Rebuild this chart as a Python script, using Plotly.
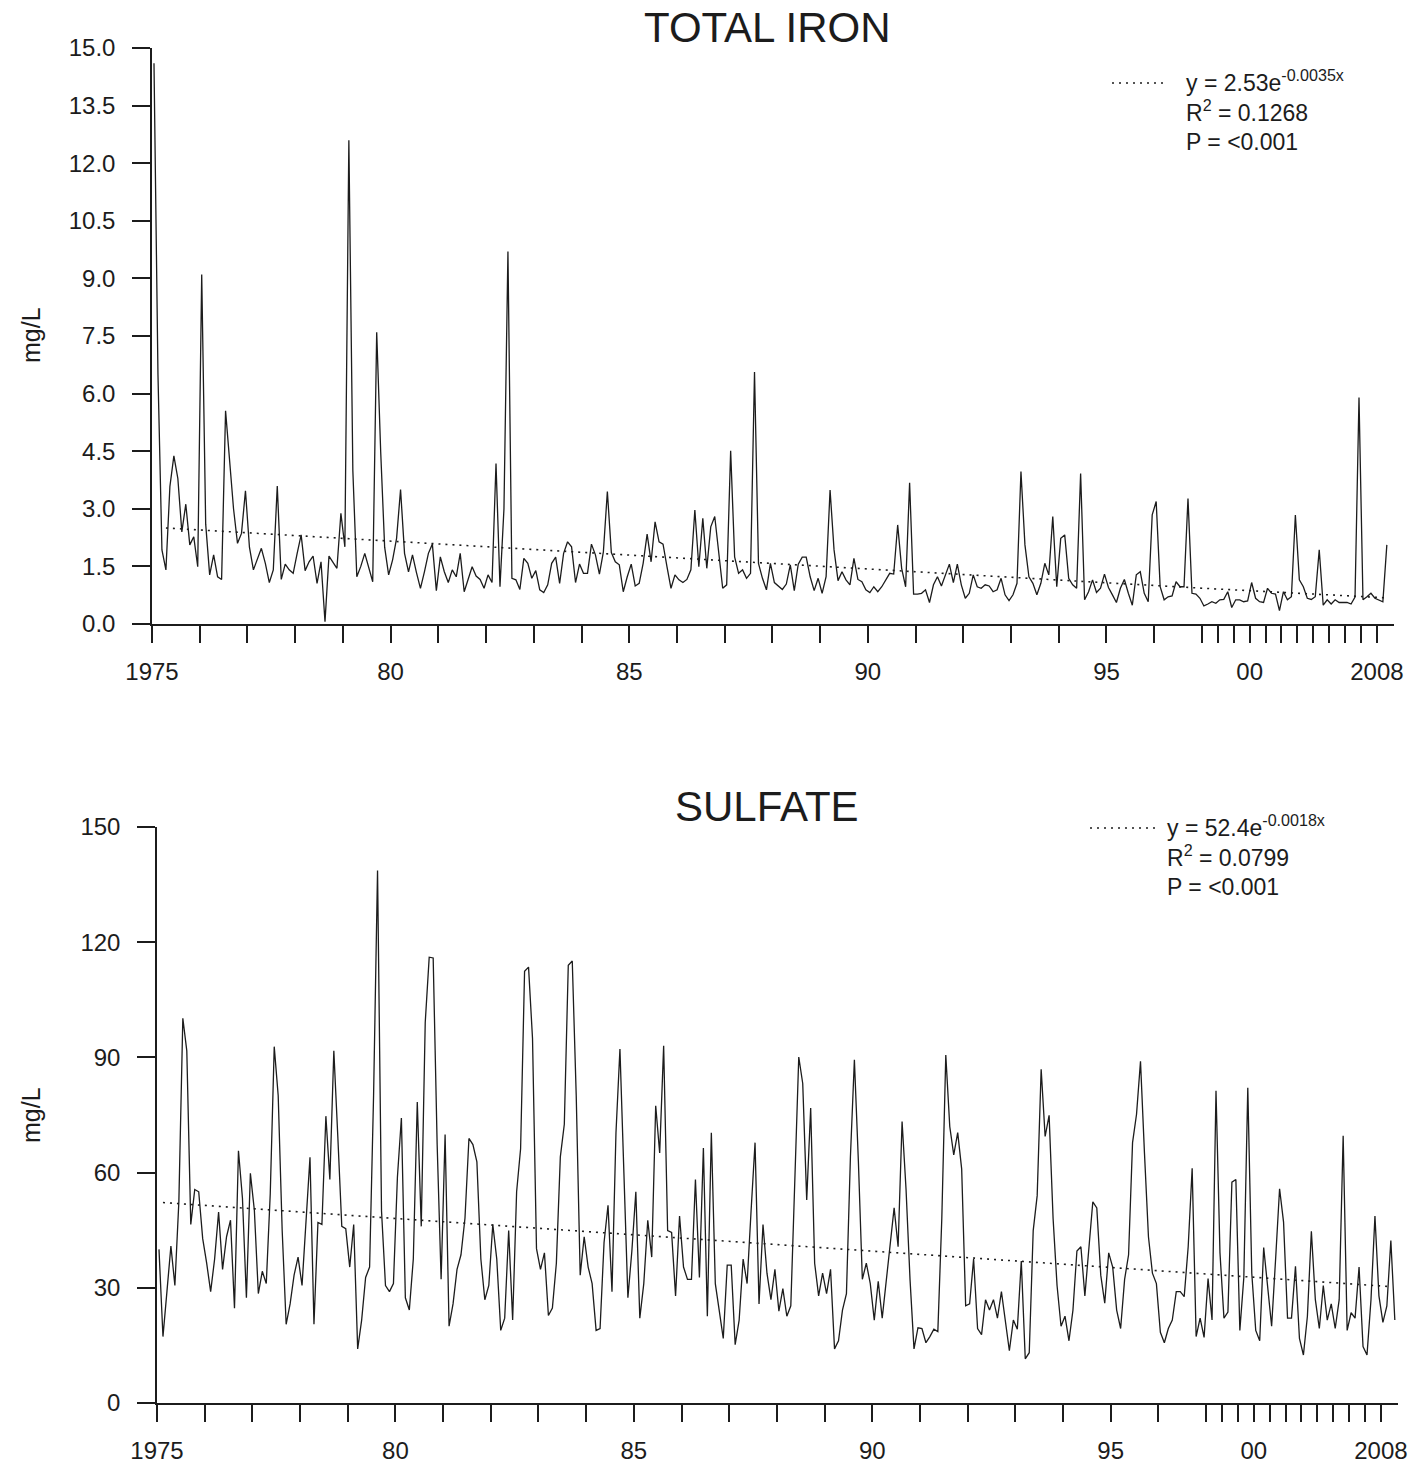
import plotly.graph_objects as go

# ---------------- data ----------------
# Samples are plotted in sequence: monthly 1975-1996, quarterly 1997-2008
years = list(range(1975, 2009))
year_labels = {1975: "1975", 1980: "80", 1985: "85", 1990: "90",
               1995: "95", 2000: "00", 2008: "2008"}
first_quarterly_year = 1997

iron = [
    14.6, 6.5, 1.93, 1.41, 3.58, 4.38, 3.79, 2.4, 3.12, 2.06, 2.27, 1.49,      # 1975
    9.1, 2.6, 1.28, 1.8, 1.23, 1.16, 5.55, 4.3, 3.0, 2.1, 2.36, 3.47,          # 1976
    2.0, 1.41, 1.67, 1.97, 1.58, 1.08, 1.41, 3.59, 1.16, 1.56, 1.41, 1.32,     # 1977
    1.84, 2.32, 1.39, 1.62, 1.77, 1.06, 1.62, 0.06, 1.77, 1.62, 1.45, 2.88,    # 1978
    2.01, 12.6, 4.0, 1.23, 1.5, 1.84, 1.45, 1.1, 7.6, 4.5, 2.0, 1.28,          # 1979
    1.67, 2.23, 3.5, 1.84, 1.36, 1.8, 1.34, 0.93, 1.36, 1.84, 2.08, 0.87,      # 1980
    1.75, 1.36, 1.08, 1.41, 1.23, 1.84, 0.84, 1.15, 1.49, 1.25, 1.16, 0.93,    # 1981
    1.28, 1.08, 4.18, 0.97, 3.0, 9.7, 1.19, 1.15, 0.9, 1.71, 1.58, 1.19,       # 1982
    1.39, 0.89, 0.82, 1.02, 1.58, 1.74, 1.06, 1.84, 2.14, 2.01, 1.08, 1.56,    # 1983
    1.32, 1.32, 2.08, 1.8, 1.3, 1.88, 3.45, 1.86, 1.62, 1.54, 0.84, 1.23,      # 1984
    1.56, 0.99, 1.06, 1.58, 2.34, 1.62, 2.66, 2.14, 2.08, 1.49, 0.93, 1.28,    # 1985
    1.15, 1.08, 1.16, 1.41, 2.97, 1.49, 2.75, 1.45, 2.53, 2.8, 1.84, 0.93,     # 1986
    1.02, 4.51, 1.75, 1.32, 1.41, 1.19, 1.32, 6.56, 1.58, 1.19, 0.89, 1.58,    # 1987
    1.08, 0.99, 0.9, 1.04, 1.54, 0.87, 1.56, 1.74, 1.74, 1.23, 0.87, 1.19,     # 1988
    0.8, 1.23, 3.49, 1.93, 1.13, 1.36, 1.15, 1.02, 1.71, 1.16, 1.1, 0.89,      # 1989
    0.82, 0.97, 0.84, 0.97, 1.15, 1.32, 1.3, 2.58, 1.45, 0.97, 3.68, 0.78,     # 1990
    0.78, 0.8, 0.89, 0.56, 1.02, 1.23, 0.99, 1.3, 1.56, 1.08, 1.56, 1.02,      # 1991
    0.67, 0.8, 1.28, 0.97, 0.93, 1.02, 0.99, 0.84, 0.89, 1.19, 0.76, 0.61,     # 1992
    0.76, 1.06, 3.97, 2.06, 1.23, 1.06, 0.76, 1.06, 1.58, 1.28, 2.8, 0.97,     # 1993
    2.23, 2.32, 1.19, 1.02, 0.93, 3.92, 0.63, 0.84, 1.15, 0.82, 0.93, 1.3,     # 1994
    0.95, 0.76, 0.56, 0.93, 1.16, 0.8, 0.49, 1.28, 1.36, 0.8, 0.58, 2.84,      # 1995
    3.19, 0.97, 0.63, 0.71, 0.73, 1.1, 0.97, 0.97, 3.27, 0.8, 0.78, 0.67,      # 1996
    0.47, 0.52, 0.58, 0.54,      # 1997
    0.63, 0.64, 0.84, 0.43,      # 1998
    0.63, 0.63, 0.58, 0.6,       # 1999
    1.08, 0.67, 0.58, 0.56,      # 2000
    0.93, 0.8, 0.78, 0.35,       # 2001
    0.84, 0.63, 0.71, 2.84,      # 2002
    1.15, 0.97, 0.67, 0.64,      # 2003
    0.71, 1.93, 0.49, 0.63,      # 2004
    0.52, 0.63, 0.56, 0.56,      # 2005
    0.56, 0.52, 0.7, 5.9,        # 2006
    0.63, 0.71, 0.8, 0.67,       # 2007
    0.63, 0.58, 2.06,            # 2008
]

sulfate = [
    40, 17.3, 29, 40.9, 30.6, 52.4, 100.2, 91.7, 46.5, 55.6, 55, 42.8,         # 1975
    36.4, 29, 37.5, 49.7, 34.8, 43.3, 47.6, 24.7, 65.7, 53.4, 27.4, 59.8,      # 1976
    50.2, 28.5, 34.3, 31.1, 54.5, 92.8, 80, 45, 20.5, 25.8, 33.3, 38,          # 1977
    30.6, 48.1, 64, 20.5, 47, 46.5, 74.7, 58.2, 91.7, 69.4, 46, 45.4,          # 1978
    35.4, 46.5, 14.1, 21.6, 32.7, 35.4, 80, 138.7, 50, 30.6, 29, 31.1,         # 1979
    58.8, 74.2, 27.4, 24.2, 37.5, 78.4, 46, 99.1, 116.1, 115.9, 67.3, 32.2,    # 1980
    69.9, 20, 25.8, 34.8, 38.6, 48.1, 68.9, 67.3, 62.8, 37.5, 26.9, 30.6,      # 1981
    46.5, 37.5, 18.9, 22.1, 44.9, 21.6, 55, 66.2, 112.4, 113.5, 94.9, 40.2,    # 1982
    34.8, 39.1, 22.8, 24.7, 36.4, 64.1, 72.6, 114, 115.1, 80, 33.3, 43.3,      # 1983
    35.4, 31.1, 18.9, 19.4, 41.8, 51.5, 29, 70.4, 92.2, 59.8, 27.4, 39.6,      # 1984
    55, 22.1, 31.1, 47.6, 38, 77.4, 65.1, 93, 44.9, 44.4, 27.9, 48.7,          # 1985
    35.4, 32.2, 32.2, 58.2, 32.7, 66.4, 22.6, 70.4, 31.1, 24, 16.8, 35.9,      # 1986
    35.9, 15.2, 21.6, 37.5, 31.1, 50, 67.8, 25.8, 46.5, 33.8, 26.9, 34.8,      # 1987
    23.9, 29.8, 22.6, 25.3, 55, 90.1, 83.2, 52.9, 76.8, 36.4, 27.9, 33.8,      # 1988
    28.5, 34.8, 14.1, 16.2, 24.2, 28.5, 64.1, 89.4, 63, 32.2, 36.4, 31.1,      # 1989
    21.6, 31.7, 22.1, 31.1, 40.2, 50.8, 40.7, 73.3, 55.6, 32.2, 14.1, 19.6,    # 1990
    19.4, 15.7, 17.3, 19.2, 18.6, 48.1, 90.6, 72, 64.6, 70.4, 60.9, 25.3,      # 1991
    25.8, 37.5, 19.4, 17.8, 26.9, 24.2, 26.9, 22.1, 29, 21.6, 13.6, 21.6,      # 1992
    19.2, 37, 11.5, 13.1, 44.9, 54, 86.9, 69.4, 74.9, 48.1, 30.6, 20,          # 1993
    22.6, 16.2, 24.2, 39.6, 40.7, 27.9, 39.6, 52.4, 50.8, 33.3, 26, 39.1,      # 1994
    35.4, 24.2, 19.4, 32.2, 38.6, 67.8, 75.2, 89, 65, 43.3, 33.8, 31.1,        # 1995
    18.4, 15.7, 19.4, 21.6, 29, 29, 27.7, 40.7, 61.1, 17.3, 22.1, 17.1,        # 1996
    32.4, 21.6, 81.3, 39.1,      # 1997
    22.1, 23.7, 57.5, 58.2,      # 1998
    18.9, 32.7, 82.1, 33.8,      # 1999
    18.9, 16.2, 40.5, 31.1,      # 2000
    20, 37.5, 55.8, 47.1,        # 2001
    22.1, 22.1, 35.6, 16.8,      # 2002
    12.5, 22.6, 44.7, 26.9,      # 2003
    19.4, 30.6, 21.6, 25.8,      # 2004
    19.4, 26.9, 69.6, 18.9,      # 2005
    23.5, 22.1, 35.4, 14.7,      # 2006
    12.5, 26.9, 48.7, 27.9,      # 2007
    21, 25.3, 42.3, 21.6,        # 2008
]

# exponential trend lines at a few sample positions
iron_trend_at = [3, 77, 155, 235, 264, 310]
iron_trend = [2.50, 2.06, 1.58, 1.10, 0.93, 0.68]
sulfate_trend_at = [1, 99, 153, 210, 257, 310]
sulfate_trend = [52.2, 45.3, 41.4, 37.5, 34.1, 30.3]

iron_fit_text = "y = 2.53e<sup>-0.0035x</sup><br>R<sup>2</sup> = 0.1268<br>P = <0.001"
sulfate_fit_text = "y = 52.4e<sup>-0.0018x</sup><br>R<sup>2</sup> = 0.0799<br>P = <0.001"

# ---------------- figure ----------------
W, H = 1427, 1466
FONT = "Liberation Sans, Arial, sans-serif"
INK = "#1c1c1c"


def px(x):
    return x / W


def py(y):
    return 1 - y / H


def sample_pos(year):
    if year <= first_quarterly_year:
        return 12 * (year - 1975) - 0.5
    return 12 * (first_quarterly_year - 1975) - 0.5 + 4 * (year - first_quarterly_year)


major_years = [y for y in years if y in year_labels]
minor_years = [y for y in years if y not in year_labels]
tickvals = [sample_pos(y) for y in major_years]
ticktext = [year_labels[y] for y in major_years]
minorvals = [sample_pos(y) for y in minor_years]

fig = go.Figure()
fig.add_trace(go.Scatter(x=list(range(len(iron))), y=iron, mode="lines",
                         line=dict(color=INK, width=1.3), xaxis="x", yaxis="y",
                         showlegend=False, hoverinfo="skip"))
fig.add_trace(go.Scatter(x=iron_trend_at, y=iron_trend, mode="lines",
                         line=dict(color=INK, width=1.6, dash="2px,5px"),
                         xaxis="x", yaxis="y", showlegend=False, hoverinfo="skip"))
fig.add_trace(go.Scatter(x=list(range(len(sulfate))), y=sulfate, mode="lines",
                         line=dict(color=INK, width=1.3), xaxis="x2", yaxis="y2",
                         showlegend=False, hoverinfo="skip"))
fig.add_trace(go.Scatter(x=sulfate_trend_at, y=sulfate_trend, mode="lines",
                         line=dict(color=INK, width=1.6, dash="2px,5px"),
                         xaxis="x2", yaxis="y2", showlegend=False, hoverinfo="skip"))

axis_common = dict(showline=True, linecolor=INK, linewidth=1.5, ticks="outside",
                   tickwidth=1.5, tickcolor=INK, showgrid=False, zeroline=False,
                   automargin=False,
                   tickfont=dict(family=FONT, size=24, color=INK))
xminor = dict(tickmode="array", tickvals=minorvals, ticks="outside", ticklen=17,
              tickwidth=1.5, tickcolor=INK, showgrid=False)

xr = [-0.5, 311.8]
fig.update_layout(
    template="none",
    width=W, height=H,
    margin=dict(l=0, r=0, t=0, b=0, pad=0, autoexpand=False),
    paper_bgcolor="white", plot_bgcolor="white",
    showlegend=False,
    xaxis=dict(domain=[px(152), px(1394)], range=xr, anchor="y",
               tickmode="array", tickvals=tickvals, ticktext=ticktext,
               ticklen=17, ticklabelstandoff=8, minor=xminor, **axis_common),
    yaxis=dict(domain=[py(624), py(48)], range=[0, 15], anchor="x",
               tickmode="linear", tick0=0, dtick=1.5, tickformat=".1f",
               ticklen=18, ticklabelstandoff=12, **axis_common),
    xaxis2=dict(domain=[px(157), px(1398)], range=xr, anchor="y2",
                tickmode="array", tickvals=tickvals, ticktext=ticktext,
                ticklen=17, ticklabelstandoff=8, minor=xminor, **axis_common),
    yaxis2=dict(domain=[py(1403), py(827)], range=[0, 150], anchor="x2",
                tickmode="linear", tick0=0, dtick=30,
                ticklen=18, ticklabelstandoff=12, **axis_common),
)

for text, cx, cy in (("TOTAL IRON", 767, 28), ("SULFATE", 767, 806)):
    fig.add_annotation(text=text, x=px(cx), y=py(cy), xref="paper", yref="paper",
                       showarrow=False, xanchor="center", yanchor="middle",
                       font=dict(family=FONT, size=42, color=INK))

for ycen in (335, 1115):
    fig.add_annotation(text="mg/L", x=px(31), y=py(ycen), xref="paper", yref="paper",
                       showarrow=False, textangle=-90, xanchor="center", yanchor="middle",
                       font=dict(family=FONT, size=25, color=INK))

fit_boxes = [
    (iron_fit_text, 1184, 64, 1112, 1164, 83),
    (sulfate_fit_text, 1165, 809, 1090, 1160, 828),
]
for text, tx, ty, lx0, lx1, ly in fit_boxes:
    fig.add_annotation(text=text, x=px(tx), y=py(ty), xref="paper", yref="paper",
                       showarrow=False, xanchor="left", yanchor="top", align="left",
                       font=dict(family=FONT, size=23, color=INK))
    fig.add_shape(type="line", xref="paper", yref="paper",
                  x0=px(lx0), x1=px(lx1), y0=py(ly), y1=py(ly),
                  line=dict(color=INK, width=1.6, dash="2px,5px"))

# remove the browser's default 8px page margin so the figure fills the window
fig.write_html("out.html",
               config={"displayModeBar": False},
               post_script="document.body.style.margin='0';document.body.style.overflow='hidden';")
